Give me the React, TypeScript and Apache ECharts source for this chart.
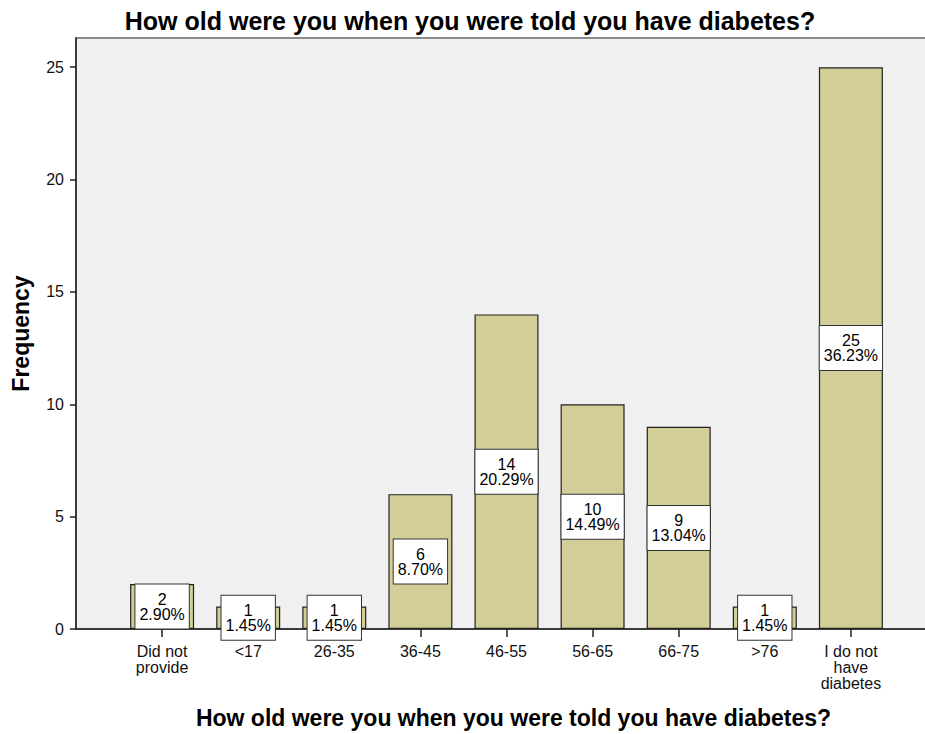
import React, { useEffect, useRef } from "react";
import * as echarts from "echarts";

const categories = [
  "",
  "Did not\nprovide",
  "<17",
  "26-35",
  "36-45",
  "46-55",
  "56-65",
  "66-75",
  ">76",
  "I do not\nhave\ndiabetes",
  "",
];
const counts: (number | string)[] = ["-", 2, 1, 1, 6, 14, 10, 9, 1, 25, "-"];
const percents = ["", "2.90%", "1.45%", "1.45%", "8.70%", "20.29%", "14.49%", "13.04%", "1.45%", "36.23%", ""];
const yTicks = { min: 0, max: 26.3, interval: 5 };

const FONT = "'Liberation Sans', Arial, sans-serif";

export default function App() {
  const ref = useRef<HTMLDivElement>(null);
  useEffect(() => {
    if (!ref.current) return;
    const chart = echarts.init(ref.current, undefined, { renderer: "svg" });
    chart.setOption({
      animation: false,
      backgroundColor: "#ffffff",
      textStyle: { fontFamily: FONT },
      title: {
        text: "How old were you when you were told you have diabetes?",
        left: 465,
        textAlign: "center",
        top: 3,
        textStyle: { fontFamily: FONT, fontSize: 25, fontWeight: "bold", color: "#000" },
      },
      grid: {
        left: 76,
        top: 38,
        width: 861,
        height: 591,
        show: true,
        backgroundColor: "#f0f0f0",
        borderColor: "#8a8a8a",
        borderWidth: 2,
      },
      xAxis: {
        type: "category",
        data: categories,
        boundaryGap: false,
        name: "How old were you when you were told you have diabetes?",
        nameLocation: "middle",
        nameGap: 77,
        nameTextStyle: {
          fontFamily: FONT,
          fontSize: 23,
          fontWeight: "bold",
          color: "#000",
          padding: [0, 0, 0, 14],
        },
        axisLine: { show: true, lineStyle: { color: "#222", width: 1.5 } },
        axisTick: {
          show: true,
          length: 8,
          interval: (_i: number, v: string) => v !== "",
          lineStyle: { color: "#222", width: 1.5 },
        },
        axisLabel: {
          interval: 0,
          margin: 14,
          fontFamily: FONT,
          fontSize: 16,
          lineHeight: 16,
          color: "#111",
        },
        splitLine: { show: false },
      },
      yAxis: {
        type: "value",
        min: yTicks.min,
        max: yTicks.max,
        interval: yTicks.interval,
        name: "Frequency",
        nameLocation: "middle",
        nameGap: 44,
        nameTextStyle: { fontFamily: FONT, fontSize: 23, fontWeight: "bold", color: "#000" },
        axisLine: { show: true, lineStyle: { color: "#222", width: 1.5 } },
        axisTick: { show: true, length: 6, lineStyle: { color: "#222", width: 1.5 } },
        axisLabel: {
          margin: 12,
          fontFamily: FONT,
          fontSize: 16,
          color: "#111",
          showMaxLabel: false,
        },
        splitLine: { show: false },
      },
      series: [
        {
          type: "bar",
          data: counts,
          barWidth: 64,
          itemStyle: { color: "#d3ce97", borderColor: "#222", borderWidth: 1.2 },
          label: {
            show: true,
            position: "inside",
            formatter: (p: any) => `${p.value}\n${percents[p.dataIndex]}`,
            fontFamily: FONT,
            fontSize: 16,
            lineHeight: 15,
            color: "#000",
            backgroundColor: "#ffffff",
            borderColor: "#333",
            borderWidth: 1,
            padding: [7, 4],
            align: "center",
          },
        },
      ],
    });
    return () => chart.dispose();
  }, []);
  return (
    <div
      style={{
        position: "absolute",
        left: 0,
        top: 0,
        width: 925,
        height: 734,
        overflow: "hidden",
      }}
    >
      <div ref={ref} style={{ width: 950, height: 734 }} />
    </div>
  );
}
